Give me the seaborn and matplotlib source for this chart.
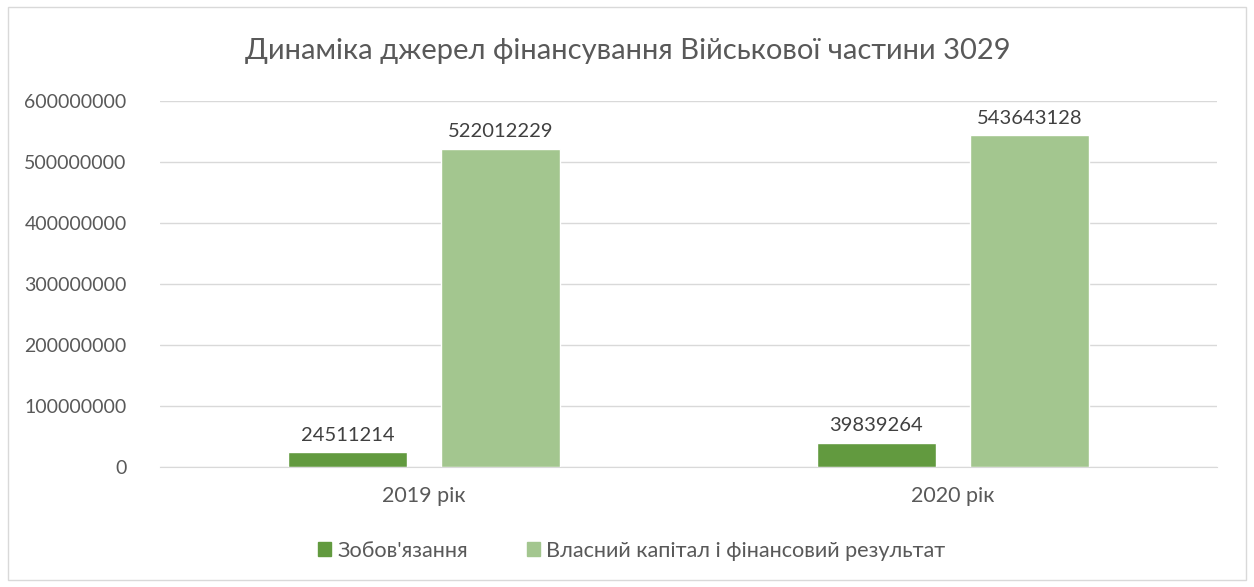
import pandas as pd
import matplotlib.pyplot as plt
import seaborn as sns
from matplotlib.patches import Rectangle

years = ['2019 рік', '2020 рік']
series = ["Зобов'язання", 'Власний капітал і фінансовий результат']
liabilities = [24511214, 39839264]
equity = [522012229, 543643128]
yticks = [0, 100000000, 200000000, 300000000, 400000000, 500000000, 600000000]

df = pd.DataFrame({
    'year': years * 2,
    'series': [series[0]] * 2 + [series[1]] * 2,
    'value': liabilities + equity,
})

sns.set_style('white')
plt.rcParams['font.family'] = ['Lato', 'DejaVu Sans']
txt = '#595959'
grid = '#D9D9D9'
colors = ['#629A3F', '#A3C68F']

fig = plt.figure(figsize=(12.54, 5.87), dpi=100)
ax = fig.add_axes([160 / 1254, 1 - 467 / 587, (1217 - 160) / 1254, (467 - 101) / 587])
fig.patches.append(Rectangle((8 / 1254, 7 / 587), 1238 / 1254, 573 / 587,
                             transform=fig.transFigure, fill=False,
                             edgecolor=grid, linewidth=1))

sns.barplot(data=df, x='year', y='value', hue='series', palette=colors,
            width=0.58, gap=0.225, ax=ax, legend=False, saturation=1)

for c in ax.containers:
    ax.bar_label(c, fmt='%d', padding=6, fontsize=14.5, color='#404040')

ax.set_xlim(-0.5, 1.5)
ax.set_ylim(0, 600000000)
ax.set_yticks(yticks)
ax.set_yticklabels([str(v) for v in yticks])
ax.yaxis.grid(True, color=grid, linewidth=1)
ax.set_axisbelow(True)
for s in ['top', 'right', 'left']:
    ax.spines[s].set_visible(False)
ax.spines['bottom'].set_color(grid)
ax.tick_params(axis='both', length=0, colors=txt)
ax.tick_params(axis='y', pad=24, labelsize=14)
ax.tick_params(axis='x', pad=14, labelsize=15.5)
ax.set_xlabel('')
ax.set_ylabel('')

fig.text(628 / 1254, 1 - 51 / 587, 'Динаміка джерел фінансування Військової частини 3029',
         ha='center', va='center', fontsize=21, color=txt)

handles = [Rectangle((0, 0), 1, 1, color=c) for c in colors]
fig.legend(handles, series, loc='center', bbox_to_anchor=(632 / 1254, 1 - 551 / 587),
           ncol=2, frameon=False, fontsize=15.6, labelcolor=txt,
           handlelength=0.6, handleheight=0.6, handletextpad=0.3, columnspacing=2.7)

plt.savefig('out.png', dpi=100)
